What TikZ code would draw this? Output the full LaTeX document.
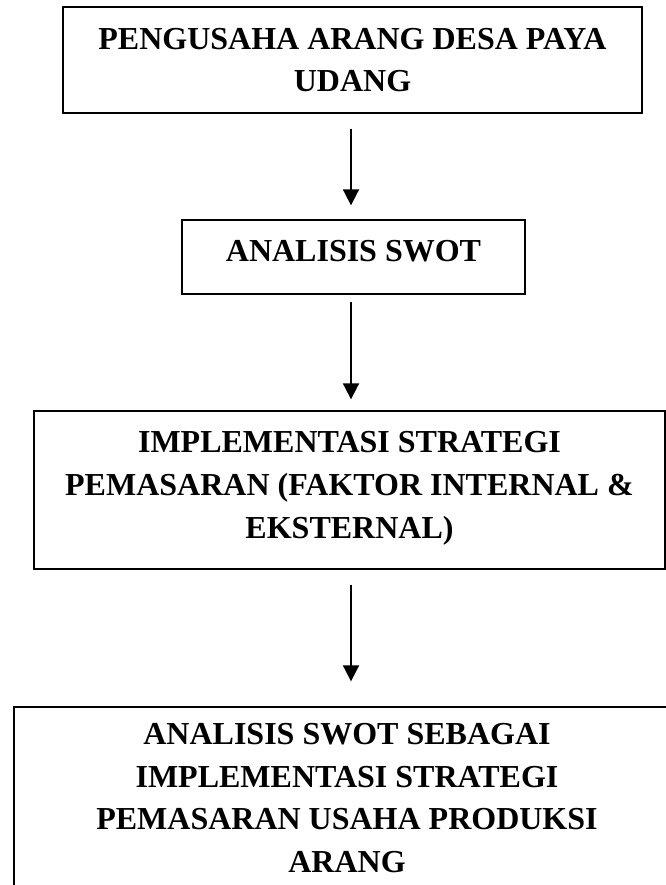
\documentclass[tikz,border=0pt]{standalone}
\usepackage{fontspec}
\setmainfont{Liberation Serif}
\usepackage{tikz}
\usetikzlibrary{arrows.meta}

\begin{document}
\begin{tikzpicture}[x=0.75pt, y=-0.75pt,
    box/.style={draw, line width=1pt, inner sep=0pt, align=center,
        font=\fontsize{24}{32}\selectfont\bfseries},
    flow/.style={line width=1.4pt, -{Triangle[width=12pt, length=12pt]}}]

    % Page frame
    \clip (0,0) rectangle (666,885);

    % Boxes
    \node[box, minimum width=434.25pt, minimum height=79.5pt] (pengusaha) at (352.5,60)
        {PENGUSAHA ARANG DESA PAYA\\UDANG};
    \node[box, minimum width=257.25pt, minimum height=55.5pt, text depth=9pt] (swot) at (353.5,257)
        {ANALISIS SWOT};
    \node[box, minimum width=473.25pt, minimum height=118.5pt, text depth=7.5pt] (implementasi) at (349.5,490)
        {IMPLEMENTASI STRATEGI\\PEMASARAN (FAKTOR INTERNAL \&\\EKSTERNAL)};
    % last box runs past the bottom edge
    \node[box, minimum width=499.5pt, minimum height=136.5pt] (hasil) at (347,798)
        {ANALISIS SWOT SEBAGAI\\IMPLEMENTASI STRATEGI\\PEMASARAN USAHA PRODUKSI\\ARANG};

    % Arrows
    \coordinate (ax) at (351,0);
    \draw[flow, shorten <=11.25pt, shorten >=10.5pt] (pengusaha.south -| ax) -- (swot.north -| ax);
    \draw[flow, shorten <=5.25pt, shorten >=8.25pt] (swot.south -| ax) -- (implementasi.north -| ax);
    \draw[flow, shorten <=11.25pt, shorten >=18.75pt] (implementasi.south -| ax) -- (hasil.north -| ax);

\end{tikzpicture}
\end{document}
